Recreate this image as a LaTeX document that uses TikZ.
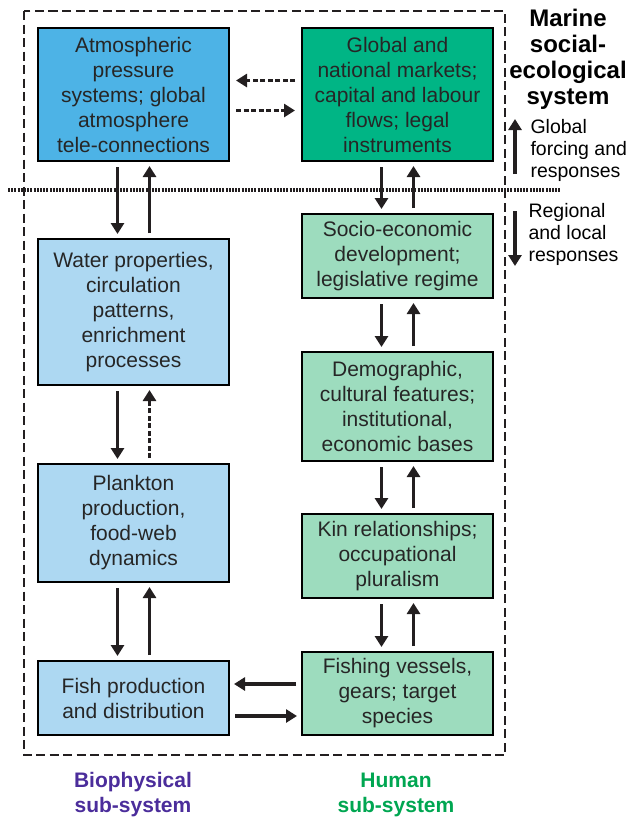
\documentclass[tikz,border=0pt]{standalone}
\usepackage{fontspec}
\setmainfont{Liberation Sans}
\usepackage{xcolor}
\usepackage{tikz}
\usetikzlibrary{shapes,arrows.meta,positioning,calc}

\definecolor{atmosblue}{RGB}{77,179,230}
\definecolor{globalgreen}{RGB}{0,181,133}
\definecolor{waterblue}{RGB}{173,216,242}
\definecolor{humangreen}{RGB}{157,220,190}
\definecolor{biopurple}{RGB}{75,45,155}
\definecolor{humantext}{RGB}{0,166,81}
\definecolor{arrowgray}{RGB}{35,31,32}

\begin{document}
\begin{tikzpicture}[
    x=1pt, y=-1pt,
    box/.style={rectangle, draw=black, line width=2pt, anchor=north west, minimum width=191pt, inner sep=0pt, align=center, text=black!85, font=\fontsize{21}{25}\selectfont},
    bio/.style={box, fill=waterblue},
    human/.style={box, fill=humangreen},
    arrow/.style={->, >={Triangle[length=11pt,width=13pt]}, line width=3.4pt, draw=arrowgray, shorten <=5pt, shorten >=4pt},
    dasharrow/.style={arrow, dash pattern=on 5pt off 2.5pt},
    sidetext/.style={anchor=west, align=left, font=\fontsize{19.5}{22}\selectfont},
    subtitle/.style={align=center, font=\bfseries\fontsize{21}{25}\selectfont}
]
\useasboundingbox (0,0) rectangle (632,820);

% System boundary
\draw [line width=2.8pt, draw=arrowgray, dash pattern=on 9pt off 4.5pt] (24,11) rectangle (505,755);
\draw [line width=3.2pt, draw=arrowgray, dash pattern=on 2pt off 1.2pt] (8,190) -- (560,190);

% Global level
\node (atmos) [box, fill=atmosblue, minimum height=133pt] at (37,27) {Atmospheric\\pressure\\systems; global\\atmosphere\\tele-connections};
\node (markets) [box, fill=globalgreen, minimum height=133pt] at (301,27) {Global and\\national markets;\\capital and labour\\flows; legal\\instruments};

% Biophysical sub-system
\node (water) [bio, minimum height=146pt] at (37,238) {Water properties,\\circulation\\patterns,\\enrichment\\processes};
\node (plankton) [bio, minimum height=118pt] at (37,463) {Plankton\\production,\\food-web\\dynamics};
\node (fish) [bio, minimum height=74pt] at (37,660) {Fish production\\and distribution};

% Human sub-system
\node (socio) [human, minimum height=84pt] at (301,213) {Socio-economic\\development;\\legislative regime};
\node (demo) [human, minimum height=109pt] at (301,351) {Demographic,\\cultural features;\\institutional,\\economic bases};
\node (kin) [human, minimum height=84pt] at (301,513) {Kin relationships;\\occupational\\pluralism};
\node (vessels) [human, minimum height=83pt] at (301,651) {Fishing vessels,\\gears; target\\species};

% Labels
\node (marine) [align=center, font=\bfseries\fontsize{24}{26}\selectfont] at (568,59) {Marine\\social-\\ecological\\system};
\coordinate (gbot) at (515,174);
\coordinate (gtop) at (515,119);
\node (globaltxt) [sidetext] at (527,150) {Global\\forcing and\\responses};
\coordinate (rtop) at (515,211);
\coordinate (rbot) at (515,266);
\node (regionaltxt) [sidetext] at (525,234) {Regional\\and local\\responses};
\node (biolabel) [subtitle, text=biopurple] at (133,795) {Biophysical\\sub-system};
\node (humanlabel) [subtitle, text=humantext] at (396,795) {Human\\sub-system};

% Arrows
\draw [dasharrow, shorten <=6pt, shorten >=6pt] ([yshift=14pt]markets.west) -- ([yshift=14pt]markets.west -| atmos.east);
\draw [dasharrow, shorten <=6pt, shorten >=6pt] ([yshift=-16pt]atmos.east) -- ([yshift=-16pt]atmos.east -| markets.west);

\draw [arrow] ([xshift=-16pt]atmos.south) -- ([xshift=-16pt]water.north);
\draw [arrow] ([xshift=16pt]water.north) -- ([xshift=16pt]atmos.south);
\draw [arrow] ([xshift=-16pt]water.south) -- ([xshift=-16pt]plankton.north);
\draw [dasharrow] ([xshift=16pt]plankton.north) -- ([xshift=16pt]water.south);
\draw [arrow] ([xshift=-16pt]plankton.south) -- ([xshift=-16pt]fish.north);
\draw [arrow] ([xshift=16pt]fish.north) -- ([xshift=16pt]plankton.south);

\draw [arrow] ([xshift=-16pt]markets.south) -- ([xshift=-16pt]socio.north);
\draw [arrow] ([xshift=16pt]socio.north) -- ([xshift=16pt]markets.south);
\draw [arrow] ([xshift=-16pt]socio.south) -- ([xshift=-16pt]demo.north);
\draw [arrow] ([xshift=16pt]demo.north) -- ([xshift=16pt]socio.south);
\draw [arrow] ([xshift=-16pt]demo.south) -- ([xshift=-16pt]kin.north);
\draw [arrow] ([xshift=16pt]kin.north) -- ([xshift=16pt]demo.south);
\draw [arrow] ([xshift=-16pt]kin.south) -- ([xshift=-16pt]vessels.north);
\draw [arrow] ([xshift=16pt]vessels.north) -- ([xshift=16pt]kin.south);

\draw [arrow] ([yshift=14pt]fish.east -| vessels.west) -- ([yshift=14pt]fish.east);
\draw [arrow] ([yshift=-18pt]fish.east) -- ([yshift=-18pt]fish.east -| vessels.west);

\draw [arrow, line width=4pt, shorten <=0pt, shorten >=0pt] (gbot) -- (gtop);
\draw [arrow, line width=4pt, shorten <=0pt, shorten >=0pt] (rtop) -- (rbot);

\end{tikzpicture}
\end{document}
